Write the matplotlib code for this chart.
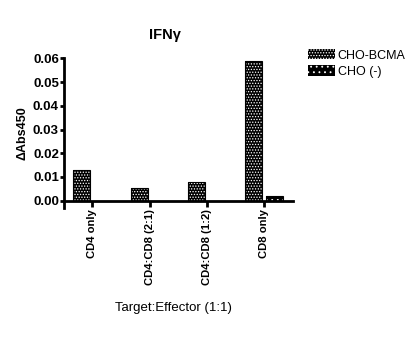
import matplotlib
matplotlib.use("Agg")
import matplotlib.pyplot as plt
import numpy as np
from matplotlib.patches import Patch

plt.rcParams['font.family'] = ['Liberation Sans', 'DejaVu Sans']
plt.rcParams['hatch.linewidth'] = 0.6

categories = ["CD4 only", "CD4:CD8 (2:1)", "CD4:CD8 (1:2)", "CD8 only"]
cho_bcma = [0.013, 0.0055, 0.008, 0.059]
cho_neg = [0.0, 0.0, 0.0, 0.002]
series_names = ["CHO-BCMA", "CHO (-)"]
yticks = [0.00, 0.01, 0.02, 0.03, 0.04, 0.05, 0.06]

fig = plt.figure(figsize=(4.09, 3.39), dpi=100)
ax = fig.add_axes([0.156, 0.386, 0.56, 0.445])

x = np.arange(len(categories))
w = 0.30
off = 0.185
for vals, dx, hatch in [(cho_bcma, -off, '......'), (cho_neg, off, '...')]:
    ax.bar(x + dx, vals, w, color='black', edgecolor='white', hatch=hatch, linewidth=0)
    ax.bar(x + dx, vals, w, color='none', edgecolor='black', linewidth=0.8)

ax.set_xlim(-0.5, 3.5)
ax.set_ylim(-0.0032, 0.0605)
ax.spines['top'].set_visible(False)
ax.spines['right'].set_visible(False)
ax.spines['bottom'].set_position(('data', 0))
ax.spines['left'].set_bounds(-0.0032, 0.06)
for s in ['left', 'bottom']:
    ax.spines[s].set_linewidth(2)
ax.set_yticks(yticks)
ax.set_yticklabels([f"{v:.2f}" for v in yticks], fontweight='bold', fontsize=9.5)
ax.set_xticks(x)
ax.set_xticklabels(categories, rotation=90, fontweight='bold', fontsize=8.1)
ax.tick_params(axis='y', direction='out', length=3, width=2, pad=0.5)
ax.tick_params(axis='x', direction='out', length=4, width=2, pad=2)

ax.set_ylabel("ΔAbs450", fontweight='bold', fontsize=9, labelpad=3)
fig.text(0.403, 0.897, "IFNγ", ha='center', va='center', fontweight='bold', fontsize=10.5)
fig.text(0.425, 0.091, "Target:Effector (1:1)", ha='center', va='center', fontsize=9.5)

handles = [Patch(facecolor='black', edgecolor='white', hatch='......', linewidth=0),
           Patch(facecolor='black', edgecolor='white', hatch='...', linewidth=0)]
fig.legend(handles, series_names, loc='upper left', bbox_to_anchor=(0.74, 0.87),
           frameon=False, fontsize=9, handlelength=2.2, handleheight=0.9,
           handletextpad=0.2, labelspacing=0.3, borderaxespad=0)

fig.savefig("out.png", dpi=100)
